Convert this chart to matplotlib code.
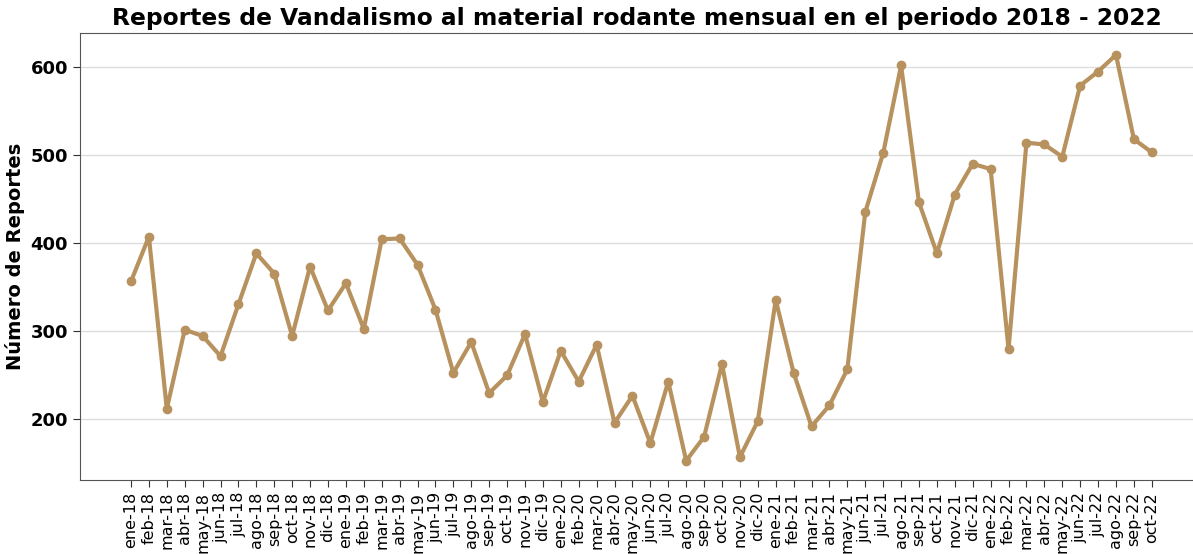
import numpy as np
import matplotlib.pyplot as plt

# Reportes mensuales de vandalismo
meses = ['ene', 'feb', 'mar', 'abr', 'may', 'jun', 'jul', 'ago', 'sep', 'oct', 'nov', 'dic']
etiquetas = [m + '-' + a for a in ['18', '19', '20', '21'] for m in meses] + \
            [m + '-22' for m in meses[:10]]

reportes_2018 = [356, 407, 211, 301, 294, 271, 330, 388, 365, 294, 373, 323]
reportes_2019 = [354, 302, 404, 405, 375, 324, 252, 287, 229, 249, 296, 219]
reportes_2020 = [277, 242, 284, 195, 226, 172, 242, 152, 179, 262, 156, 197]
reportes_2021 = [335, 252, 191, 215, 256, 435, 502, 602, 446, 388, 455, 490]
reportes_2022 = [484, 279, 514, 512, 498, 579, 595, 614, 518, 503]

reportes = reportes_2018 + reportes_2019 + reportes_2020 + reportes_2021 + reportes_2022
x = np.arange(len(reportes))

fig = plt.figure(figsize=(11.93, 5.54), dpi=100)
ax = fig.add_axes([0.067, 0.1336, 0.933, 0.807])

ax.plot(x, reportes, color='#B8925E', linewidth=3, marker='o', markersize=6)

ax.set_xlim(-2.85, 59.3)
ax.set_ylim(130, 639)
ax.set_yticks([200, 300, 400, 500, 600])
ax.grid(True, axis='y', color='#dddddd', linewidth=1)
ax.set_axisbelow(True)

ax.set_xticks(x)
ax.set_xticklabels(etiquetas, rotation=90, fontsize=11.5)
for t in ax.get_yticklabels():
    t.set_fontweight('bold')
    t.set_fontsize(13)
ax.tick_params(axis='both', colors='#333333', labelcolor='black', length=5)

ax.spines['right'].set_visible(False)
for s in ['left', 'bottom', 'top']:
    ax.spines[s].set_color('#555555')

ax.set_ylabel('Número de Reportes', fontsize=14, fontweight='bold')
ax.set_title('Reportes de Vandalismo al material rodante mensual en el periodo 2018 - 2022',
             fontsize=16.8, fontweight='bold', x=0.5, pad=6)

fig.savefig('out.png', dpi=100)
